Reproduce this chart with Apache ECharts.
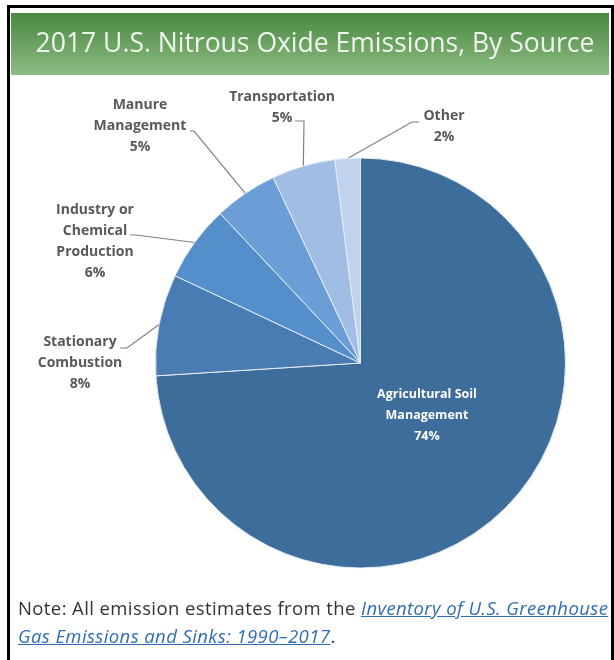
<!DOCTYPE html>
<html>
<head>
<meta charset="utf-8">
<script src="https://cdn.jsdelivr.net/npm/echarts@6/dist/echarts.min.js"></script>
<style>
html, body { margin: 0; padding: 0; background: #fff; }
#frame { position: absolute; left: 7px; top: 5px; width: 601px; height: 660px; border: 3px solid #000; border-bottom: none; }
#chart { position: absolute; left: 0; top: 0; width: 614px; height: 660px; }
#note { position: absolute; left: 18px; top: 594px; white-space: nowrap; font-family: "Open Sans", Lato, sans-serif; font-size: 18.5px; letter-spacing: 0.4px; line-height: 28px; color: #333; }
#note a { color: #2f6db5; font-style: italic; text-decoration: underline; }
</style>
</head>
<body>
<div id="frame"></div>
<div id="chart"></div>
<div id="note">Note: All emission estimates from the <a>Inventory of U.S. Greenhouse<br>Gas Emissions and Sinks: 1990–2017</a>.</div>
<script>
// sources, clockwise from 12 o'clock
const categories = [
  'Agricultural Soil\nManagement',
  'Stationary\nCombustion',
  'Industry or\nChemical\nProduction',
  'Manure\nManagement',
  'Transportation',
  'Other'
];
const shares = [74, 8, 6, 5, 5, 2];
const sliceColors = ['#3d6d9b', '#487cb2', '#548fcb', '#6b9ed6', '#a0bee4', '#c1d3ec'];

// label placement: [centre x, top y] and the leader line's elbow + end next to the text
const labelAnchor = [[427, 384], [80, 332], [95, 200], [140, 95], [282, 87], [444, 106]];
const leaderTail = [
  null,
  [[127, 348], [120, 348]],
  [[136, 235], [130, 235]],
  [[194, 131], [190, 131]],
  [[304, 121], [295, 121]],
  [[412, 122], [419, 122]]
];

const pieCenter = [360.5, 363];
const pieRadius = 205;

function edgePoint(i) {
  let before = 0;
  for (let k = 0; k < i; k++) before += shares[k];
  const total = shares.reduce((a, b) => a + b, 0);
  const ang = (before + shares[i] / 2) / total * Math.PI * 2;
  return [pieCenter[0] + Math.sin(ang) * pieRadius, pieCenter[1] - Math.cos(ang) * pieRadius];
}

const chart = echarts.init(document.getElementById('chart'));
chart.setOption({
  animation: false,
  title: {
    text: '2017 U.S. Nitrous Oxide Emissions, By Source',
    left: 315,
    textAlign: 'center',
    top: 31,
    padding: 0,
    textStyle: { color: '#eef5ec', fontFamily: 'Open Sans', fontSize: 26.5, fontWeight: 'normal' }
  },
  graphic: [{
    type: 'rect',
    z: -1,
    shape: { x: 11, y: 13, width: 598, height: 62 },
    style: {
      fill: new echarts.graphic.LinearGradient(0, 0, 0, 1, [
        { offset: 0, color: '#4a8942' },
        { offset: 1, color: '#8dbb82' }
      ])
    }
  }],
  series: [{
    type: 'pie',
    center: pieCenter,
    radius: pieRadius,
    startAngle: 90,
    clockwise: true,
    avoidLabelOverlap: false,
    silent: true,
    itemStyle: { borderColor: '#e4ecf6', borderWidth: 1 },
    label: {
      show: true,
      position: 'outside',
      formatter: p => p.name + '\n' + p.value + '%',
      fontFamily: 'Open Sans',
      fontWeight: 'bold',
      fontSize: 14,
      lineHeight: 21,
      color: '#595959'
    },
    labelLine: { show: true, lineStyle: { color: '#808080', width: 1.2 } },
    labelLayout: function (p) {
      const i = p.dataIndex;
      const out = { x: labelAnchor[i][0], y: labelAnchor[i][1], align: 'center', verticalAlign: 'top' };
      if (leaderTail[i]) {
        const start = p.labelLinePoints ? p.labelLinePoints[0] : edgePoint(i);
        out.labelLinePoints = [start, leaderTail[i][0], leaderTail[i][1]];
      }
      return out;
    },
    data: categories.map((name, i) => ({
      name: name,
      value: shares[i],
      itemStyle: { color: sliceColors[i] },
      label: i === 0 ? { position: 'inside', color: '#ffffff', fontSize: 12.5 } : {},
      labelLine: i === 0 ? { show: false } : {}
    }))
  }]
});
</script>
</body>
</html>
